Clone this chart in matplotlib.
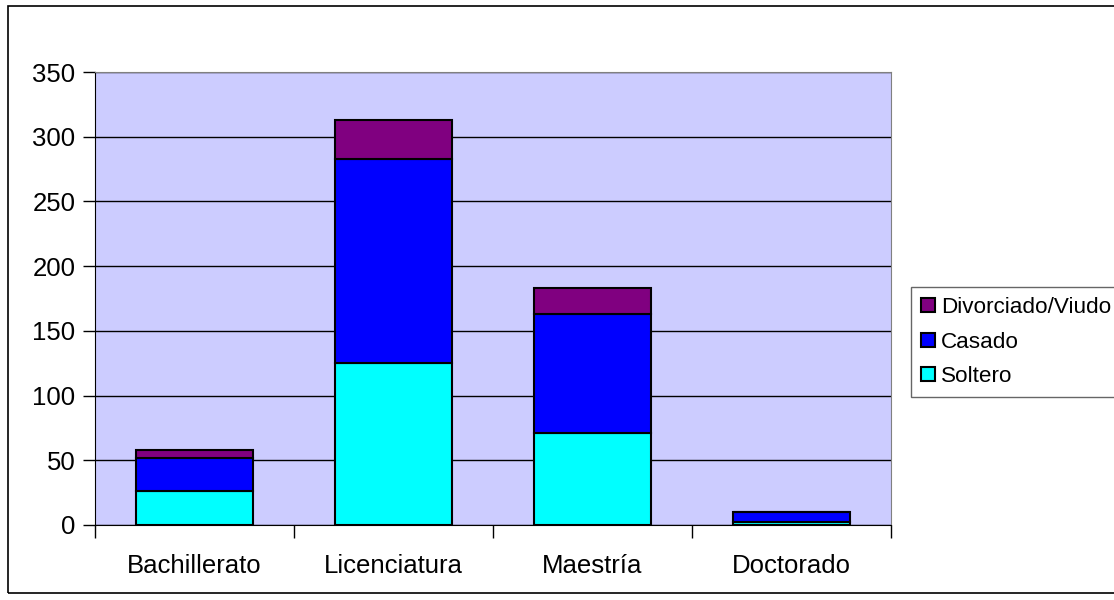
import matplotlib.pyplot as plt
import numpy as np
from matplotlib.patches import Rectangle

plt.rcParams["font.family"] = ["Liberation Sans", "DejaVu Sans"]

# --------- Data ---------
categories = ["Bachillerato", "Licenciatura", "Maestría", "Doctorado"]
soltero = [26, 125, 71, 2]
casado = [26, 158, 92, 8]
divorciado = [6, 30, 20, 0]
series_names = ["Soltero", "Casado", "Divorciado/Viudo"]
colors = ["#00FFFF", "#0000FF", "#800080"]
yticks = [0, 50, 100, 150, 200, 250, 300, 350]

fig = plt.figure(figsize=(11.14, 6), dpi=100)
ax = fig.add_axes([95 / 1114, 1 - 525 / 600, (891 - 95) / 1114, (525 - 72) / 600])
ax.set_facecolor("#CCCCFF")

x = np.arange(len(categories))
bottom = np.zeros(len(categories))
handles = []
for name, vals, col in zip(series_names, [soltero, casado, divorciado], colors):
    vals = np.array(vals, dtype=float)
    b = ax.bar(x, vals, width=0.59, bottom=bottom, color=col, edgecolor="black",
               linewidth=1.5, label=name, zorder=3)
    bottom += vals
    handles.append(b)

ax.set_ylim(0, 350)
ax.set_xlim(-0.5, len(categories) - 0.5)
ax.set_yticks(yticks)
ax.yaxis.grid(True, color="black", linewidth=1, zorder=1)
ax.set_axisbelow(True)

ax.set_xticks(x)
ax.set_xticklabels(categories)
ax.set_xticks(np.arange(-0.5, len(categories)), minor=True)
ax.tick_params(axis="x", which="major", length=0, pad=21, labelsize=18.5)
ax.tick_params(axis="x", which="minor", length=9, width=1, color="black", direction="out")
ax.tick_params(axis="y", length=9, width=1, color="black", direction="out", pad=5, labelsize=18.5)

for side in ["top", "right"]:
    ax.spines[side].set_color("#808080")
ax.spines["left"].set_color("black")
ax.spines["bottom"].set_color("black")

# legend runs off the right edge, like the cropped original
leg_top = 1 - 287 / 600
leg = fig.legend(handles[::-1], series_names[::-1], loc="upper left",
                 bbox_to_anchor=(911 / 1114, leg_top - 0.1, 215 / 1114, 0.1),
                 mode="expand", frameon=True,
                 fancybox=False, edgecolor="#404040", fontsize=16.2,
                 handlelength=0.6, handleheight=0.6, handletextpad=0.3,
                 labelspacing=0.6, borderpad=0.45, borderaxespad=0)
leg.get_frame().set_linewidth(1)

# outer chart border (right side falls outside the image)
fig.patches.append(Rectangle((8 / 1114, 7 / 600), 1120 / 1114, 587 / 600,
                             transform=fig.transFigure, fill=False,
                             edgecolor="black", linewidth=1.2))

fig.savefig("out.png", dpi=100)
